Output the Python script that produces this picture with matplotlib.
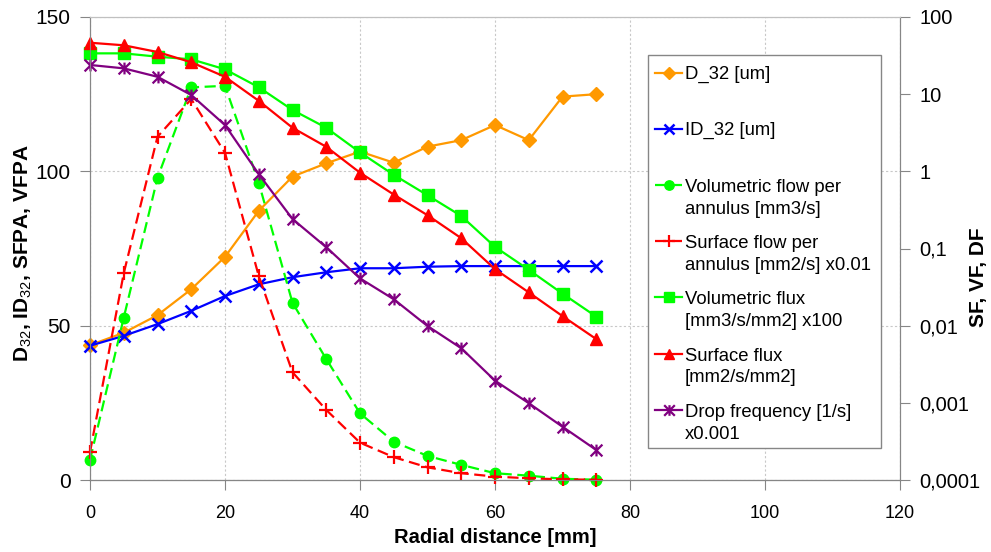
import matplotlib
matplotlib.use('Agg')
import matplotlib.pyplot as plt
from matplotlib.lines import Line2D
from matplotlib.patches import Rectangle
from matplotlib.path import Path

plt.rcParams['font.family'] = ['Liberation Sans', 'DejaVu Sans']
plt.rcParams['mathtext.fontset'] = 'custom'
plt.rcParams['mathtext.rm'] = 'Liberation Sans'

# data
radial = [0, 5, 10, 15, 20, 25, 30, 35, 40, 45, 50, 55, 60, 65, 70, 75]
d32 = [43.7, 47.7, 53.4, 61.8, 72.3, 87.2, 98.3, 102.6, 106.4, 102.8, 108.0, 110.1, 115.0, 110.1, 124.2, 125.0]
id32 = [43.5, 46.7, 50.5, 54.8, 59.6, 63.4, 65.7, 67.3, 68.6, 68.6, 69.1, 69.3, 69.3, 69.3, 69.3, 69.3]
vfpa = [6.5, 52.6, 97.9, 127.2, 127.7, 96.3, 57.4, 39.2, 21.6, 12.4, 7.8, 4.9, 2.2, 1.4, 0.4, 0.1]
sfpa = [9.0, 67.0, 111.2, 123.4, 106.0, 66.1, 34.9, 22.7, 12.1, 7.4, 4.1, 2.2, 1.1, 0.55, 0.2, 0.1]
vf = [33.8, 33.8, 30.6, 28.3, 21.0, 12.3, 6.24, 3.67, 1.76, 0.90, 0.49, 0.264, 0.105, 0.053, 0.026, 0.0131]
sf = [46.4, 43.0, 35.2, 25.9, 16.8, 8.2, 3.67, 2.08, 0.96, 0.50, 0.27, 0.136, 0.054, 0.027, 0.0133, 0.0067]
df = [23.9, 21.6, 16.8, 9.75, 3.98, 0.92, 0.241, 0.104, 0.041, 0.022, 0.0099, 0.0051, 0.00194, 0.00099, 0.00049, 0.000245]

labels = ['D_32 [um]', 'ID_32 [um]',
          'Volumetric flow per\nannulus [mm3/s]',
          'Surface flow per\nannulus [mm2/s] x0.01',
          'Volumetric flux\n[mm3/s/mm2] x100',
          'Surface flux\n[mm2/s/mm2]',
          'Drop frequency [1/s]\nx0.001']

right_ticks = [1e-4, 1e-3, 1e-2, 1e-1, 1, 10, 100]
right_ticklabels = ['0,0001', '0,001', '0,01', '0,1', '1', '10', '100']

# excel style asterisk marker
star = Path([(0, -1), (0, 1), (-1, -1), (1, 1), (-1, 1), (1, -1)],
            [Path.MOVETO, Path.LINETO] * 3)

dash = (0, (5, 2.5))
styles = [
    dict(color='#FF9900', marker='D', ms=6.8, ls='-'),
    dict(color='#0000FF', marker='x', ms=8.5, mew=1.8, ls='-'),
    dict(color='#00FF00', marker='o', ms=7.5, ls=dash),
    dict(color='#FF0000', marker='+', ms=9.5, mew=1.6, ls=dash),
    dict(color='#00FF00', marker='s', ms=8.5, ls='-'),
    dict(color='#FF0000', marker='^', ms=8.5, ls='-'),
    dict(color='#800080', marker=star, ms=8.5, mew=1.6, ls='-'),
]

W, H = 991, 552
fig = plt.figure(figsize=(W / 100, H / 100), dpi=100)
ax = fig.add_axes([90 / W, 1 - 480 / H, 810 / W, 463 / H])
ax2 = ax.twinx()

left_series = [d32, id32, vfpa, sfpa]
right_series = [vf, sf, df]
for vals, st in zip(left_series, styles[:4]):
    ax.plot(radial, vals, lw=1.6, clip_on=False, **st)
for vals, st in zip(right_series, styles[4:]):
    ax2.plot(radial, vals, lw=1.6, clip_on=False, **st)

ax.set_xlim(0, 120)
ax.set_ylim(0, 150)
ax.set_xticks(range(0, 121, 20))
ax.set_yticks([0, 50, 100, 150])
ax.grid(True, color='#c8c8c8', ls=(0, (2, 2)), lw=0.8)
ax.set_axisbelow(True)

ax2.set_yscale('log')
ax2.set_ylim(1e-4, 100)
ax2.set_yticks(right_ticks)
ax2.set_yticklabels(right_ticklabels)
ax2.minorticks_off()

for a in (ax, ax2):
    for s in a.spines.values():
        s.set_color('#868686')
    a.spines['top'].set_color('#c0c0c0')
ax.spines['bottom'].set_color('#404040')

ax.tick_params(axis='y', length=7, color='#868686', labelsize=15, pad=7)
ax.tick_params(axis='x', length=7, color='#868686', labelsize=13, pad=11)
ax2.tick_params(axis='y', length=7, color='#868686', labelsize=14.5, pad=7)

ax.set_xlabel('Radial distance [mm]', fontsize=14.5, fontweight='bold', labelpad=4)
ax.set_ylabel(r'D$_{\mathrm{32}}$, ID$_{\mathrm{32}}$, SFPA, VFPA', fontsize=15, fontweight='bold')
ax.yaxis.set_label_coords(-0.069, 0.49)
ax2.set_ylabel('SF, VF, DF', fontsize=15, fontweight='bold')
ax2.yaxis.set_label_coords(1.085, 0.438)

# legend drawn by hand to get the excel look
def fx(px):
    return px / W

def fy(py):
    return 1 - py / H

fig.add_artist(Rectangle((fx(648), fy(448)), fx(881) - fx(648), fy(55) - fy(448),
                         transform=fig.transFigure, fc='white', ec='#868686', lw=1, zorder=10))
for i, (lab, st) in enumerate(zip(labels, styles)):
    yc = 72.5 + 56.2 * i
    nlines = lab.count('\n') + 1
    line_st = {k: v for k, v in st.items() if k not in ('marker', 'ms', 'mew')}
    fig.add_artist(Line2D([fx(655), fx(682)], [fy(yc), fy(yc)], lw=1.6,
                          transform=fig.transFigure, zorder=11, **line_st))
    fig.add_artist(Line2D([fx(668.5)], [fy(yc)], ls='none', color=st['color'], marker=st['marker'],
                          ms=st['ms'] * 0.9, mew=st.get('mew', 1), transform=fig.transFigure, zorder=12))
    # baseline of last line
    fig.text(fx(685), fy(yc + 6 + 23 * (nlines - 1)), lab, fontsize=13.3, va='baseline', ha='left',
             linespacing=1.37, zorder=12)

fig.savefig('out.png', dpi=100)
